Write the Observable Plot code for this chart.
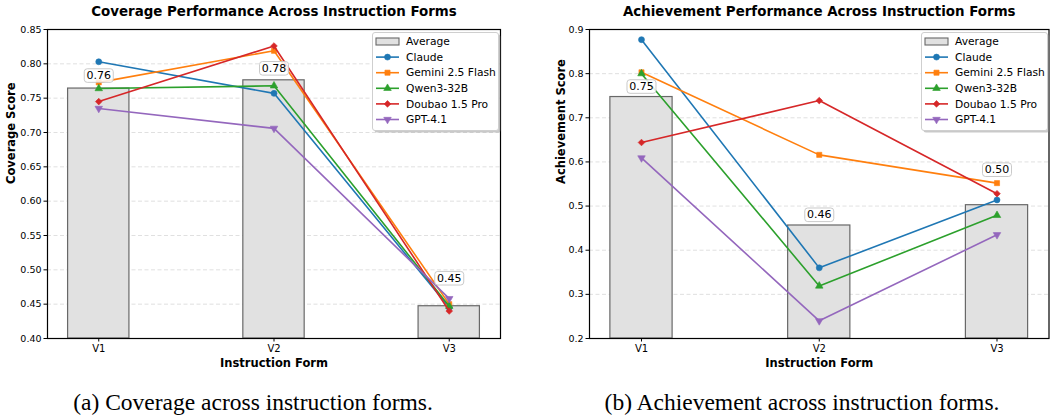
<!DOCTYPE html>
<html><head><meta charset="utf-8">
<script src="https://cdn.jsdelivr.net/npm/d3@7"></script>
<script src="https://cdn.jsdelivr.net/npm/@observablehq/plot@0.6"></script>
<style>
body{margin:0;background:#fff;}
#wrap{position:relative;width:1050px;height:417px;overflow:hidden;font-family:"DejaVu Sans",sans-serif;background:#fff;}
.panel{position:absolute;top:0;}
.leg{position:absolute;overflow:visible;}
.cap{position:absolute;top:389px;font-family:"Liberation Serif","Times New Roman",serif;font-size:23.5px;line-height:26px;white-space:nowrap;transform:translateX(-50%);color:#000;}
</style></head><body><div id="wrap"></div>
<script>
// ---- data ----
const forms = ["V1", "V2", "V3"];
const models = ["Claude", "Gemini 2.5 Flash", "Qwen3-32B", "Doubao 1.5 Pro", "GPT-4.1"];
const colors = ["#1f77b4", "#ff7f0e", "#2ca02c", "#d62728", "#9467bd"];

const coverageAverage = [0.764, 0.776, 0.447];
const coverageClaude  = [0.803, 0.757, 0.445];
const coverageGemini  = [0.773, 0.819, 0.450];
const coverageQwen    = [0.764, 0.768, 0.447];
const coverageDoubao  = [0.745, 0.826, 0.440];
const coverageGPT     = [0.735, 0.706, 0.458];
const coverageTicks   = [0.40, 0.45, 0.50, 0.55, 0.60, 0.65, 0.70, 0.75, 0.80, 0.85];

const achievementAverage = [0.747, 0.456, 0.502];
const achievementClaude  = [0.877, 0.360, 0.514];
const achievementGemini  = [0.803, 0.616, 0.552];
const achievementQwen    = [0.800, 0.319, 0.479];
const achievementDoubao  = [0.644, 0.739, 0.528];
const achievementGPT     = [0.609, 0.240, 0.435];
const achievementTicks   = [0.2, 0.3, 0.4, 0.5, 0.6, 0.7, 0.8, 0.9];

// ---- symbols ----
const sqrt3 = Math.sqrt(3);
const triangleDown = {
  draw(ctx, size) {
    const y = -Math.sqrt(size / (sqrt3 * 3));
    ctx.moveTo(0, -y * 2);
    ctx.lineTo(sqrt3 * y, y);
    ctx.lineTo(-sqrt3 * y, y);
    ctx.closePath();
  }
};
const labelBox = {
  draw(ctx) {
    const w = 14.5, h = 6.8, r = 3;
    ctx.moveTo(-w + r, -h);
    ctx.lineTo(w - r, -h);
    ctx.arcTo(w, -h, w, -h + r, r);
    ctx.lineTo(w, h - r);
    ctx.arcTo(w, h, w - r, h, r);
    ctx.lineTo(-w + r, h);
    ctx.arcTo(-w, h, -w, h - r, r);
    ctx.lineTo(-w, -h + r);
    ctx.arcTo(-w, -h, -w + r, -h, r);
    ctx.closePath();
  }
};
const symbols = ["circle", "square", "triangle", "diamond2", triangleDown];
const symbolR = [3.0, 2.9, 2.8, 3.0, 2.8];

function makeChart({title, ylabel, avg, labelDy, series, yDomain, ticks, tickFmt, marginLeft, marginRight, ylabelDx}) {
  const avgData = avg.map((v, i) => ({i, v}));
  const marks = [
    Plot.gridY(ticks, {stroke: "#b8b8b8", strokeOpacity: 0.55, strokeDasharray: "4,2.5", strokeWidth: 0.8}),
    Plot.rect(avgData, {x1: d => d.i - 0.175, x2: d => d.i + 0.175, y1: yDomain[0], y2: "v",
      fill: "#e1e1e1", stroke: "#686868", strokeWidth: 1.2})
  ];
  series.forEach((vals, k) => {
    const data = vals.map((v, i) => ({i, v}));
    marks.push(Plot.line(data, {x: "i", y: "v", stroke: colors[k], strokeWidth: 1.6}));
    marks.push(Plot.dot(data, {x: "i", y: "v", fill: colors[k], stroke: colors[k], strokeWidth: 0.6,
      symbol: symbols[k], r: symbolR[k]}));
  });
  avgData.forEach((d, i) => {
    marks.push(
      Plot.dot([d], {x: "i", y: "v", dy: labelDy[i], symbol: labelBox, r: 5, fill: "white", fillOpacity: 0.85,
        stroke: "#c4c4c4", strokeWidth: 0.9}),
      Plot.text([d], {x: "i", y: "v", dy: labelDy[i], text: d => d.v.toFixed(2), fontSize: 11, fill: "black"})
    );
  });
  marks.push(
    Plot.frame({stroke: "black", strokeWidth: 1.2}),
    Plot.axisY({ticks, tickFormat: tickFmt, tickSize: 3.5, tickPadding: 2.5, fontSize: 9.5, label: null}),
    Plot.axisX({ticks: [0, 1, 2], tickFormat: i => forms[i], tickSize: 3.5, tickPadding: 3, fontSize: 10, label: null}),
    Plot.text([title], {frameAnchor: "top", dy: -18, text: d => d, fontWeight: "bold", fontSize: 13.4, lineAnchor: "middle"}),
    Plot.text([ylabel], {frameAnchor: "left", dx: ylabelDx, rotate: -90, text: d => d, fontWeight: "bold", fontSize: 11.5, lineAnchor: "middle"}),
    Plot.text(["Instruction Form"], {frameAnchor: "bottom", dy: 25, text: d => d, fontWeight: "bold", fontSize: 11.5, lineAnchor: "middle"})
  );
  return Plot.plot({
    width: 525, height: 375,
    marginLeft, marginRight, marginTop: 29, marginBottom: 37,
    style: {fontFamily: "DejaVu Sans", fontSize: "9px", color: "black", background: "white", overflow: "visible"},
    x: {type: "linear", domain: [-0.2925, 2.2925]},
    y: {type: "linear", domain: yDomain},
    marks
  });
}

const wrap = document.getElementById("wrap");

function addLegend(left, top) {
  const w = 126, h = 98;
  const svg = d3.create("svg").attr("class", "leg").attr("width", w + 4).attr("height", h + 4)
    .style("left", left + "px").style("top", top + "px")
    .style("font-family", "DejaVu Sans").style("font-size", "10.7px");
  svg.append("rect").attr("x", 2.5).attr("y", 2.5).attr("width", w).attr("height", h).attr("rx", 2.5)
    .attr("fill", "#888").attr("opacity", 0.45);
  svg.append("rect").attr("x", 0.5).attr("y", 0.5).attr("width", w).attr("height", h).attr("rx", 2.5)
    .attr("fill", "white").attr("stroke", "#cfcfcf").attr("stroke-width", 1);
  const rows = ["Average", ...models];
  rows.forEach((name, j) => {
    const cy = 9.5 + j * 15.6;
    if (j === 0) {
      svg.append("rect").attr("x", 4).attr("y", cy - 3.5).attr("width", 23).attr("height", 7)
        .attr("fill", "#e1e1e1").attr("stroke", "#686868").attr("stroke-width", 1.1);
    } else {
      const k = j - 1;
      svg.append("line").attr("x1", 4).attr("x2", 27).attr("y1", cy).attr("y2", cy)
        .attr("stroke", colors[k]).attr("stroke-width", 1.6);
      const s = symbols[k];
      const type = typeof s === "string" ? {circle: d3.symbolCircle, square: d3.symbolSquare, triangle: d3.symbolTriangle, diamond2: d3.symbolDiamond2}[s] : s;
      svg.append("path").attr("d", d3.symbol(type, Math.PI * symbolR[k] * symbolR[k])())
        .attr("transform", `translate(15.5,${cy})`).attr("fill", colors[k]).attr("stroke", colors[k]).attr("stroke-width", 0.6);
    }
    svg.append("text").attr("x", 34).attr("y", cy).attr("dy", "0.35em").attr("fill", "black").text(name);
  });
  wrap.appendChild(svg.node());
}

const left = makeChart({
  title: "Coverage Performance Across Instruction Forms", ylabel: "Coverage Score",
  avg: coverageAverage, labelDy: [-13, -12, -28],
  series: [coverageClaude, coverageGemini, coverageQwen, coverageDoubao, coverageGPT],
  yDomain: [0.40, 0.85], ticks: coverageTicks, tickFmt: d3.format(".2f"),
  marginLeft: 47, marginRight: 25, ylabelDx: -36
});
left.classList.add("panel"); left.style.left = "0px";
wrap.appendChild(left);

const right = makeChart({
  title: "Achievement Performance Across Instruction Forms", ylabel: "Achievement Score",
  avg: achievementAverage, labelDy: [-10.5, -10.7, -35.5],
  series: [achievementClaude, achievementGemini, achievementQwen, achievementDoubao, achievementGPT],
  yDomain: [0.2, 0.9], ticks: achievementTicks, tickFmt: d3.format(".1f"),
  marginLeft: 64, marginRight: 1.5, ylabelDx: -28
});
right.classList.add("panel"); right.style.left = "525px";
wrap.appendChild(right);

addLegend(371.5, 31.5);
addLegend(920.5, 31.5);

const capA = document.createElement("div"); capA.className = "cap"; capA.style.left = "253px";
capA.textContent = "(a) Coverage across instruction forms."; wrap.appendChild(capA);
const capB = document.createElement("div"); capB.className = "cap"; capB.style.left = "802px";
capB.textContent = "(b) Achievement across instruction forms."; wrap.appendChild(capB);
</script></body></html>
